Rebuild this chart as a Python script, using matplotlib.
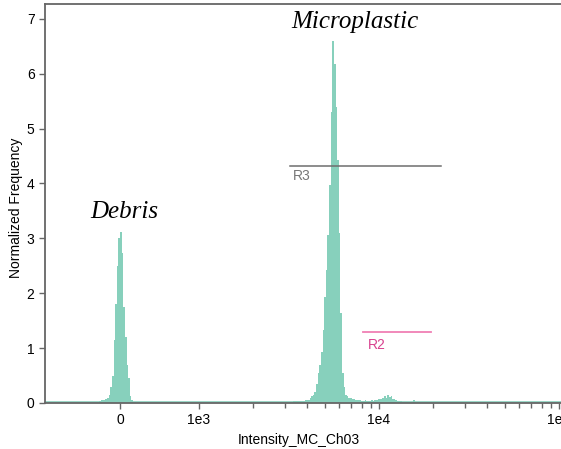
import numpy as np
import matplotlib.pyplot as plt
from matplotlib.ticker import FixedLocator, FixedFormatter, NullFormatter

plt.rcParams['font.family'] = ['Liberation Sans', 'DejaVu Sans']

# normalized frequency per bin (bins are equal width on the display scale)
debris_first_bin = 33
debris_heights = [0.03, 0.05, 0.05, 0.06, 0.07, 0.10, 0.14, 0.30, 0.50, 1.15,
                  1.80, 2.50, 3.00, 3.12, 2.73, 1.75, 1.20, 0.70, 0.45, 0.12,
                  0.05, 0.02, 0.01]

plastic_first_bin = 151
plastic_heights = [0.02, 0.02, 0.03, 0.03, 0.03, 0.03, 0.04, 0.03, 0.04, 0.05,
                   0.05, 0.06, 0.09, 0.12, 0.15, 0.20, 0.35, 0.54, 0.69, 0.93,
                   1.33, 1.93, 2.42, 3.06, 3.97, 5.30, 6.60, 6.18, 5.40, 4.43,
                   3.10, 1.64, 0.55, 0.30, 0.15, 0.13, 0.09, 0.09, 0.08, 0.07,
                   0.06, 0.05, 0.05, 0.06, 0.04, 0.04, 0.05, 0.03, 0.04, 0.04,
                   0.05, 0.04, 0.05, 0.06, 0.07, 0.07, 0.08, 0.10, 0.13, 0.09,
                   0.14, 0.11, 0.13, 0.08, 0.07, 0.05, 0.04, 0.03, 0.03, 0.02,
                   0.02, 0.02, 0.02, 0.02, 0.02, 0.02, 0.05, 0.02, 0.01, 0.01]

# gates
r3_range = [3200, 22100]
r3_level = 4.32
r2_range = [8150, 19450]
r2_level = 1.29

major_ticks = [0, 1e3, 1e4, 1e5]
major_labels = ['0', '1e3', '1e4', '1e5']
minor_ticks = [m * 10 ** e for e in (3, 4) for m in range(2, 10)]
y_ticks = [0, 1, 2, 3, 4, 5, 6, 7]

fig = plt.figure(figsize=(5.61, 4.49), dpi=100)
ax = fig.add_axes([45 / 561, 46 / 449, 528.3 / 561, 399 / 449])
ax.set_xscale('symlog', linthresh=1000, linscale=0.395)
ax.set_xlim(-950, 1.2e5)
ax.set_ylim(0, 7.27)

# histogram bins, evenly spaced in the transformed coordinate
scale_edges = np.arange(-414, 2520, 9)
edges = ax.xaxis.get_transform().inverted().transform(scale_edges.astype(float))
heights = np.zeros(len(edges) - 1)
heights[debris_first_bin:debris_first_bin + len(debris_heights)] = debris_heights
heights[plastic_first_bin:plastic_first_bin + len(plastic_heights)] = plastic_heights

hist_color = '#87d0bc'
ax.stairs(heights, edges, fill=True, facecolor=hist_color, edgecolor='none',
          lw=0, antialiased=False, zorder=2)
ax.plot([edges[0], edges[-1]], [0.012, 0.012], color=hist_color, lw=1.2, zorder=2)

# gate markers
ax.plot(r3_range, [r3_level, r3_level], color='#6e6e6e', lw=1.1, zorder=3)
ax.text(r3_range[0] * 1.04, r3_level - 0.06, 'R3', color='#777777',
        fontsize=10, ha='left', va='top')
ax.plot(r2_range, [r2_level, r2_level], color='#f07fb4', lw=1.3, zorder=3)
ax.text(8700, r2_level - 0.1, 'R2', color='#d8428f',
        fontsize=10, ha='left', va='top')

ax.text(7300, 6.94, 'Microplastic', family='Liberation Serif', style='italic',
        fontsize=18, ha='center', va='center')
ax.text(60, 3.48, 'Debris', family='Liberation Serif', style='italic',
        fontsize=18, ha='center', va='center')

ax.xaxis.set_major_locator(FixedLocator(major_ticks))
ax.xaxis.set_major_formatter(FixedFormatter(major_labels))
ax.xaxis.set_minor_locator(FixedLocator(minor_ticks))
ax.xaxis.set_minor_formatter(NullFormatter())
ax.set_yticks(y_ticks)

for side in ['left', 'bottom', 'top', 'right']:
    ax.spines[side].set_color('#666666')
    ax.spines[side].set_linewidth(1.3)

ax.tick_params(which='major', direction='out', length=4.5, width=1,
               color='#666666', labelsize=10, pad=3)
ax.tick_params(which='minor', direction='out', length=3.5, width=1,
               color='#666666')

ax.set_xlabel('Intensity_MC_Ch03', fontsize=10)
ax.xaxis.set_label_coords((299 - 45) / 528.3, -0.075)
ax.set_ylabel('Normalized Frequency', fontsize=10)
ax.yaxis.set_label_coords(-0.042, (403 - 208) / 399)

fig.savefig('out.png', dpi=100)
